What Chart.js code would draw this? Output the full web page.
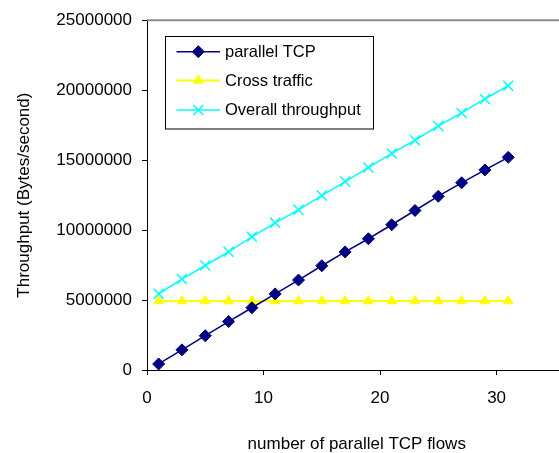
<!DOCTYPE html>
<html>
<head>
<meta charset="utf-8">
<script src="https://cdn.jsdelivr.net/npm/chart.js@4/dist/chart.umd.min.js"></script>
<style>
  html, body { margin: 0; padding: 0; background: #fff; overflow: hidden; }
  #wrap { width: 559px; height: 453px; overflow: hidden; }
  canvas { display: block; }
</style>
</head>
<body>
<div id="wrap"><canvas id="c" width="575" height="453"></canvas></div>
<script>
// Number of parallel TCP flows per run
const flows = [1, 3, 5, 7, 9, 11, 13, 15, 17, 19, 21, 23, 25, 27, 29, 31];

// Throughput in bytes/second
const parallelTcp = [430000, 1440000, 2450000, 3460000, 4450000, 5440000, 6430000, 7450000,
                     8440000, 9380000, 10380000, 11400000, 12420000, 13380000, 14300000, 15200000];
const crossTraffic = [4930000, 4930000, 4930000, 4930000, 4930000, 4930000, 4930000, 4930000,
                      4930000, 4930000, 4930000, 4930000, 4930000, 4930000, 4930000, 4930000];
const overallThroughput = [5450000, 6500000, 7470000, 8450000, 9520000, 10520000, 11450000, 12470000,
                           13470000, 14470000, 15480000, 16420000, 17440000, 18370000, 19370000, 20320000];

const seriesNames = ['parallel TCP', 'Cross traffic', 'Overall throughput'];

// Axis ticks
const xTicks = [0, 10, 20, 30];
const yTicks = [0, 5000000, 10000000, 15000000, 20000000, 25000000];

const FONT = 'Liberation Sans, Arial, sans-serif';
const toPoints = ys => flows.map((x, i) => ({ x: x, y: ys[i] }));

// Grey frame line along the top of the plot area
const topFrame = {
  id: 'topFrame',
  afterDraw(chart) {
    const ctx = chart.ctx;
    const area = chart.chartArea;
    ctx.save();
    ctx.strokeStyle = '#8c8c8c';
    ctx.lineWidth = 2;
    ctx.beginPath();
    ctx.moveTo(area.left, area.top);
    ctx.lineTo(area.right, area.top);
    ctx.stroke();
    ctx.restore();
  }
};

// Legend drawn as a framed box inside the plot area
const boxLegend = {
  id: 'boxLegend',
  afterDatasetsDraw(chart) {
    const ctx = chart.ctx;
    const bx = 165.5, by = 36.5, bw = 208, bh = 92.5;
    ctx.save();
    ctx.fillStyle = '#fff';
    ctx.fillRect(bx, by, bw, bh);
    ctx.strokeStyle = '#000';
    ctx.lineWidth = 1;
    ctx.strokeRect(bx, by, bw, bh);
    const rows = [51.7, 80.5, 110];
    chart.data.datasets.forEach((ds, i) => {
      const y = rows[i];
      ctx.strokeStyle = ds.borderColor;
      ctx.lineWidth = ds.borderWidth;
      ctx.beginPath();
      ctx.moveTo(176.5, y);
      ctx.lineTo(220, y);
      ctx.stroke();
      ctx.fillStyle = ds.pointBackgroundColor;
      ctx.strokeStyle = ds.pointBorderColor;
      ctx.lineWidth = ds.pointBorderWidth;
      Chart.helpers.drawPoint(ctx, {
        pointStyle: ds.pointStyle, radius: ds.pointRadius, borderWidth: ds.pointBorderWidth, rotation: 0
      }, 198.3, y);
      ctx.fillStyle = '#000';
      ctx.font = '16.5px ' + FONT;
      ctx.textBaseline = 'middle';
      ctx.textAlign = 'left';
      ctx.fillText(ds.label, 225, y + 0.5);
    });
    ctx.restore();
  }
};

new Chart(document.getElementById('c'), {
  type: 'line',
  data: {
    datasets: [
      {
        label: seriesNames[0],
        data: toPoints(parallelTcp),
        borderColor: '#000080', backgroundColor: '#000080', borderWidth: 1.5,
        pointStyle: 'rectRot', pointRadius: 6,
        pointBackgroundColor: '#000080', pointBorderColor: '#000080', pointBorderWidth: 1
      },
      {
        label: seriesNames[1],
        data: toPoints(crossTraffic),
        borderColor: '#FFFF00', backgroundColor: '#FFFF00', borderWidth: 2,
        pointStyle: 'triangle', pointRadius: 5.5,
        pointBackgroundColor: '#FFFF00', pointBorderColor: '#FFFF00', pointBorderWidth: 1
      },
      {
        label: seriesNames[2],
        data: toPoints(overallThroughput),
        borderColor: '#00FFFF', backgroundColor: '#00FFFF', borderWidth: 1.5,
        pointStyle: 'crossRot', pointRadius: 7,
        pointBackgroundColor: '#00FFFF', pointBorderColor: '#00FFFF', pointBorderWidth: 1.5
      }
    ]
  },
  options: {
    responsive: false,
    animation: false,
    devicePixelRatio: 1,
    layout: { padding: { top: 6.5, right: 0, bottom: 0, left: 0 } },
    plugins: { legend: { display: false }, tooltip: { enabled: false } },
    elements: { line: { tension: 0 } },
    scales: {
      x: {
        type: 'linear', min: 0, max: 36,
        afterBuildTicks: s => { s.ticks = xTicks.map(v => ({ value: v })); },
        afterFit: s => { s.height = 83; },
        grid: { color: 'transparent', tickColor: '#000', tickLength: 5, drawTicks: true },
        border: { color: '#000', width: 1 },
        ticks: {
          color: '#000', padding: 13, maxRotation: 0,
          font: { family: FONT, size: 17 },
          callback: v => String(v)
        },
        title: {
          display: true, text: 'number of parallel TCP flows', color: '#000',
          font: { family: FONT, size: 17, lineHeight: 1 }, padding: { top: 0, bottom: 0 }
        }
      },
      y: {
        type: 'linear', min: 0, max: 25000000,
        afterBuildTicks: s => { s.ticks = yTicks.map(v => ({ value: v })); },
        afterFit: s => { s.width = 147; },
        grid: { color: 'transparent', tickColor: '#000', tickLength: 5, drawTicks: true },
        border: { color: '#000', width: 1 },
        ticks: {
          color: '#000', padding: 10,
          font: { family: FONT, size: 17 },
          callback: v => String(v)
        },
        title: {
          display: true, text: 'Throughput (Bytes/second)', color: '#000',
          font: { family: FONT, size: 17, lineHeight: 1.2 }, padding: { top: 14, bottom: 0 }
        }
      }
    }
  },
  plugins: [topFrame, boxLegend]
});
</script>
</body>
</html>
